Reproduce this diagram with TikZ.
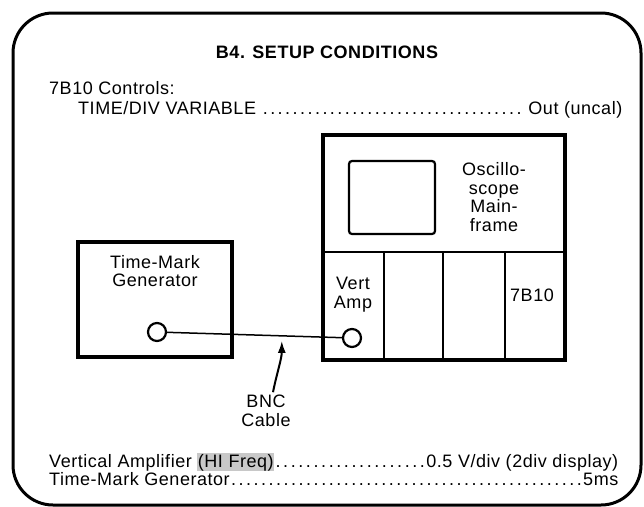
\documentclass[tikz,border=0pt]{standalone}
\usepackage{fontspec}
\usepackage{xcolor}
\usepackage{tikz}
\usetikzlibrary{arrows.meta,positioning,calc}
\newfontfamily\manualfont[LetterSpace=3]{Liberation Sans}
\definecolor{smudge}{RGB}{200,200,200}
\newcommand\leaderdots{\xleaders\hbox to 7.4pt{\hss.\hss}\hfill}

\begin{document}
\begin{tikzpicture}[x=1pt,y=-1pt,
  txt/.style={font=\manualfont\fontsize{18}{18.5}\selectfont,inner sep=0pt},
  box/.style={draw,line width=3.2pt,outer sep=0pt,inner sep=0pt},
  part/.style={line width=2.2pt},
  jack/.style={circle,draw,line width=2.2pt,minimum size=18pt,inner sep=0pt},
  cable/.style={line width=1.5pt},
  bncarrow/.style={line width=2pt,-{Latex[length=12pt,width=8pt]}}]
  \useasboundingbox (0,0) rectangle (644,506);
  \draw[line width=3pt,rounded corners=40pt] (13,13) rectangle (641,505);

  % heading and control settings
  \node[txt,font=\manualfont\bfseries\fontsize{18}{18.5}\selectfont,anchor=base]
    (title) at (327,58) {B4. SETUP CONDITIONS};
  \node[txt,anchor=base west] (ctrlhead) at (49,94.5) {7B10 Controls:};
  \node[txt,anchor=base west] (timediv) at (78,114)
    {\makebox[544pt]{TIME/DIV VARIABLE \leaderdots{} Out (uncal)}};

  % time-mark generator
  \node[box,minimum width=154pt,minimum height=115pt] (tmg) at (155,299.5) {};
  \node[txt,align=center,below=13pt of tmg.north] (tmgtxt) {Time-Mark\\Generator};
  \node[jack] (tmgjack) at (157,332) {};

  % oscilloscope mainframe
  \node[box,minimum width=242pt,minimum height=225pt] (mainframe) at (444,247.5) {};
  \node[box,line width=2.2pt,rounded corners=3pt,minimum width=86pt,minimum height=73pt]
    (screen) at (392,197.5) {};
  \draw[part] ([yshift=-117pt]mainframe.north west) -- ([yshift=-117pt]mainframe.north east);
  \foreach \dx in {61,120,182}
    \draw[part] ([xshift=\dx pt]mainframe.south west) -- ([xshift=\dx pt,yshift=108pt]mainframe.south west);
  \node[txt,align=center] (mftxt) at (494,197) {Oscillo-\\scope\\Main-\\frame};
  \node[txt,align=center] (vamptxt) at (353,294.5) {Vert\\Amp};
  \node[txt] (tbtxt) at (532,295) {7B10};
  \node[jack] (vampjack) at (352,338) {};

  % cable
  \draw[cable] (tmgjack) -- (vampjack);
  \coordinate (tip) at ($(tmgjack)!0.64!(vampjack)+(0,5)$);
  \node[txt,align=center] (bnc) at (266,411) {BNC\\Cable};
  \draw[bncarrow] ([xshift=7pt,yshift=3pt]bnc.north) .. controls +(4,-20) and +(0,18) .. (tip);

  % bottom settings
  \node[txt,anchor=base west] (vertrow) at (49,467)
    {\makebox[569pt]{Vertical Amplifier {\setlength\fboxsep{0.5pt}\colorbox{smudge}{(HI Freq)}}\leaderdots 0.5 V/div (2div display)}};
  \node[txt,anchor=base west] (tmrow) at (49,485)
    {\makebox[569pt]{Time-Mark Generator\leaderdots 5ms}};
\end{tikzpicture}
\end{document}
